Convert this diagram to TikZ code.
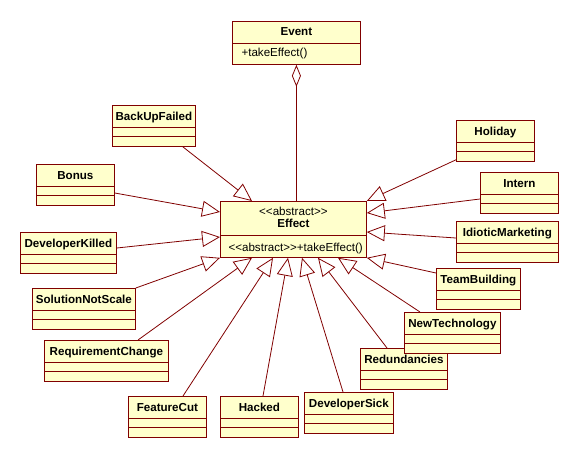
\documentclass[tikz,border=0pt]{standalone}
\usepackage{fontspec}
\newfontfamily\umlfont{Liberation Sans}
\usetikzlibrary{arrows.meta}
\definecolor{umlline}{RGB}{128,0,0}
\definecolor{umlfill}{RGB}{255,255,204}
\newcommand{\umltext}{\umlfont\fontsize{11.6}{13.5}\selectfont}
\tikzset{
  umlbox/.style={draw=umlline, fill=umlfill, line width=0.8pt, anchor=north west, inner sep=0pt, font=\umltext\bfseries},
  classbox/.style={umlbox, minimum width=#1, text height=15pt, text depth=26pt,
    path picture={
      \draw[umlline, line width=0.8pt] ([yshift=-22pt]path picture bounding box.north west) -- ([yshift=-22pt]path picture bounding box.north east);
      \draw[umlline, line width=0.8pt] ([yshift=-31pt]path picture bounding box.north west) -- ([yshift=-31pt]path picture bounding box.north east);
    }},
  inherit/.style={draw=umlline, line width=0.8pt, -{Triangle[open, length=18pt, width=16pt]}},
}

\begin{document}
\begin{tikzpicture}[x=1pt, y=-1pt]
      \useasboundingbox (0, 0) rectangle (579, 458);
      \node[umlbox, minimum width=128, text height=14pt, text depth=29pt,
        path picture={\draw[umlline, line width=0.8pt] ([yshift=-22pt]path picture bounding box.north west) -- ([yshift=-22pt]path picture bounding box.north east);}]
        (event) at (232, 21) {Event};
      \node[anchor=base west, font=\umltext] (eventOp) at ([xshift=6pt, yshift=-35pt]event.north west) {+takeEffect()};
      \node[umlbox, minimum width=146, minimum height=56,
        path picture={\draw[umlline, line width=0.8pt] ([yshift=-34pt]path picture bounding box.north west) -- ([yshift=-34pt]path picture bounding box.north east);}]
        (effect) at (220, 201) {};
      \node[anchor=base, font=\umltext] (effectStereo) at ([yshift=-14pt]effect.north) {<<abstract>>};
      \node[anchor=base, font=\umltext\bfseries] (effectName) at ([yshift=-26pt]effect.north) {Effect};
      \node[anchor=base west, font=\umltext] (effectOp) at ([xshift=5pt, yshift=-50pt]effect.north west) {<<abstract>>+takeEffect()};
      \draw[umlline, line width=0.8pt, {Diamond[open, length=22pt, width=9pt]}-] (event.south) -- (event.south |- effect.north);

      \node[classbox=83] (backUpFailed) at (112, 105) {BackUpFailed};
      \node[classbox=78] (bonus) at (36, 164) {Bonus};
      \node[classbox=96] (developerKilled) at (20, 232) {DeveloperKilled};
      \node[classbox=103] (solutionNotScale) at (32, 288) {SolutionNotScale};
      \node[classbox=124] (requirementChange) at (44, 340) {RequirementChange};
      \node[classbox=78] (featureCut) at (128, 396) {FeatureCut};
      \node[classbox=78] (hacked) at (220, 396) {Hacked};
      \node[classbox=89] (developerSick) at (304, 392) {DeveloperSick};
      \node[classbox=87] (redundancies) at (360, 348) {Redundancies};
      \node[classbox=96] (newTechnology) at (404, 312) {NewTechnology};
      \node[classbox=84] (teamBuilding) at (436, 268) {TeamBuilding};
      \node[classbox=102] (idioticMarketing) at (456, 221) {IdioticMarketing};
      \node[classbox=78] (intern) at (480, 172) {Intern};
      \node[classbox=78] (holiday) at (456, 120) {Holiday};

      \draw[inherit] ([xshift=-13pt]backUpFailed.south east) -- ([xshift=32pt]effect.north west);
      \draw[inherit] ([yshift=-29pt]bonus.north east) -- ([yshift=-11pt]effect.north west);
      \draw[inherit] ([yshift=-16pt]developerKilled.north east) -- ([yshift=-36pt]effect.north west);
      \draw[inherit] (solutionNotScale.north east) -- (effect.south west);
      \draw[inherit] ([xshift=94pt]requirementChange.north west) -- ([xshift=32pt]effect.south west);
      \draw[inherit] ([xshift=55pt]featureCut.north west) -- ([xshift=53pt]effect.south west);
      \draw[inherit] ([xshift=43pt]hacked.north west) -- ([xshift=68pt]effect.south west);
      \draw[inherit] ([xshift=39pt]developerSick.north west) -- ([xshift=82pt]effect.south west);
      \draw[inherit] ([xshift=27pt]redundancies.north west) -- ([xshift=98pt]effect.south west);
      \draw[inherit] ([xshift=16pt]newTechnology.north west) -- ([xshift=118pt]effect.south west);
      \draw[inherit] ([yshift=-5pt]teamBuilding.north west) -- (effect.south east);
      \draw[inherit] ([yshift=-17pt]idioticMarketing.north west) -- ([yshift=-31pt]effect.north east);
      \draw[inherit] ([yshift=-27pt]intern.north west) -- ([yshift=-12pt]effect.north east);
      \draw[inherit] ([yshift=2pt]holiday.south west) -- (effect.north east);
\end{tikzpicture}
\end{document}
